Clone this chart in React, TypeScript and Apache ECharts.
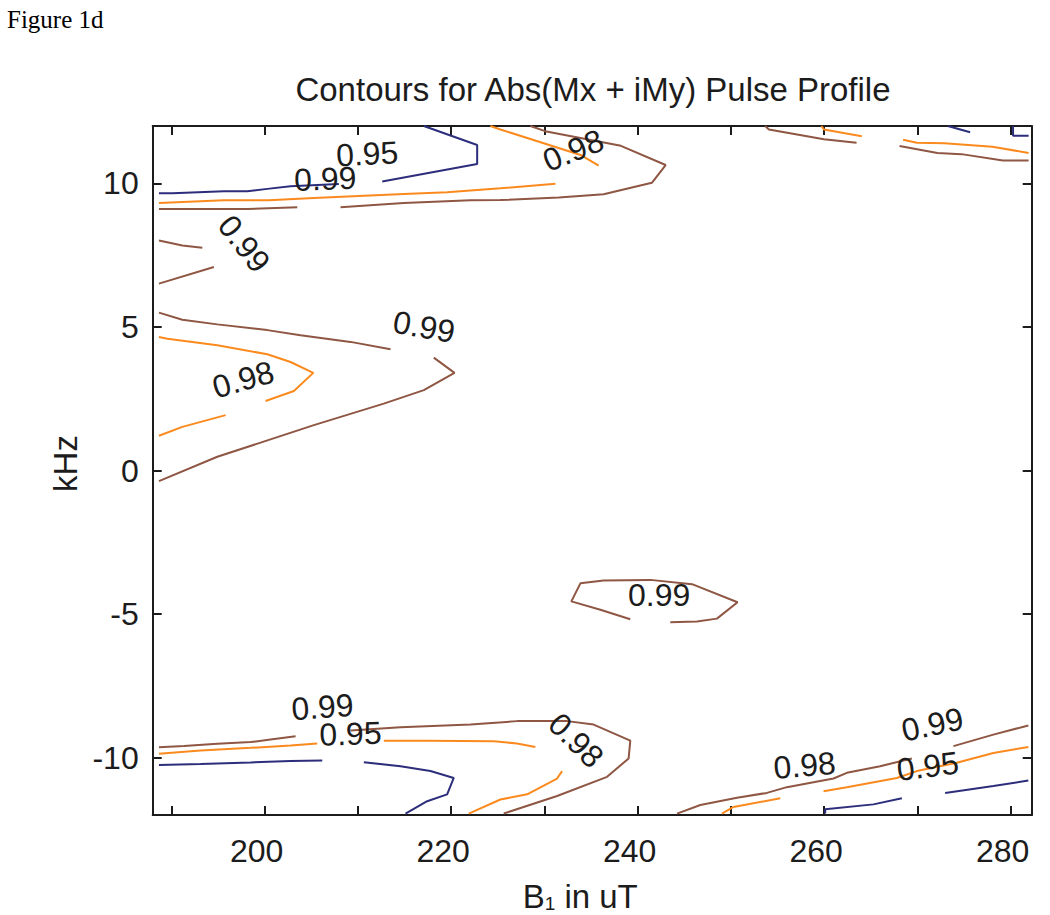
import { useEffect, useRef } from "react";
import * as echarts from "echarts";

// ---- Axis settings (data units) ----
const X_MIN = 188;
const X_MAX = 282.25;
const Y_MIN = -12;
const Y_MAX = 12;
const xTickValues = [190, 200, 210, 220, 230, 240, 250, 260, 270, 280];
const xLabelValues = [200, 220, 240, 260, 280];
const yTickValues = [-10, -5, 0, 5, 10];

const TITLE = "Contours for Abs(Mx + iMy) Pulse Profile";
const FIG_LABEL = "Figure 1d";

// ---- Contour level 0.95 (navy) ----
const c95TopLeftA: number[][] = [[188.67, 9.66], [190.11, 9.66], [195.64, 9.73], [198.14, 9.73], [200.29, 9.81], [202.78, 9.9], [207.96, 9.98]];
const c95TopLeftB: number[][] = [[212.61, 10.07], [222.79, 10.68], [222.79, 11.34], [217.07, 12]];
const c95TopRightA: number[][] = [[273.26, 12], [275.65, 11.78]];
const c95TopRightB: number[][] = [[280.25, 12], [280.25, 11.66], [281.92, 11.66]];
const c95BottomLeftA: number[][] = [[188.67, -10.26], [193.14, -10.22], [198.5, -10.17], [202.78, -10.12], [206.18, -10.1]];
const c95BottomLeftB: number[][] = [[210.64, -10.16], [214.57, -10.3], [217.78, -10.47], [220.28, -10.71], [219.57, -11.28], [217.43, -11.52], [215.11, -11.95]];
const c95BottomRightA: number[][] = [[260.11, -11.95], [260.11, -11.8], [265.28, -11.63], [268.33, -11.42]];
const c95BottomRightB: number[][] = [[272.97, -11.23], [278.14, -10.99], [281.89, -10.8]];

// ---- Contour level 0.98 (orange) ----
const c98TopLeftA: number[][] = [[188.67, 9.32], [195.64, 9.41], [200.46, 9.41], [205.28, 9.49], [214.92, 9.63], [219.57, 9.69], [225.28, 9.83], [231.18, 9.99]];
const c98TopLeftB: number[][] = [[235.82, 10.62], [233.96, 10.98], [225.28, 11.88], [224.21, 12]];
const c98TopMid: number[][] = [[259.7, 12], [259.97, 11.88], [264.03, 11.64]];
const c98TopRight: number[][] = [[268.46, 11.52], [269.93, 11.42], [272.88, 11.4], [278.04, 11.28], [281.92, 11.06]];
const c98MidLeftA: number[][] = [[188.67, 4.65], [189.57, 4.59], [194.93, 4.36], [200.29, 4.05], [202.78, 3.78], [205.22, 3.4], [203.14, 2.77], [200.1, 2.42]];
const c98MidLeftB: number[][] = [[195.82, 1.93], [191.18, 1.52], [188.67, 1.21]];
const c98BottomLeftA: number[][] = [[188.67, -9.87], [193.14, -9.75], [198.5, -9.66], [202.78, -9.58], [205.64, -9.51]];
const c98BottomLeftB: number[][] = [[212.78, -9.41], [217.43, -9.41], [224.57, -9.43], [227.07, -9.51], [229.03, -9.63]];
const c98BottomLeftC: number[][] = [[231.9, -10.47], [231.36, -10.73], [228.15, -11.28], [225.28, -11.46], [221.89, -11.95]];
const c98BottomRightA: number[][] = [[249.04, -11.95], [250.28, -11.72], [255.29, -11.42]];
const c98BottomRightB: number[][] = [[259.93, -11.17], [262.43, -11.03], [267.79, -10.71], [269.93, -10.47], [274.22, -10.18], [278.14, -9.84], [281.89, -9.63]];

// ---- Contour level 0.99 (brown) ----
const c99TopLeftA: number[][] = [[188.67, 9.11], [198.14, 9.11], [203.5, 9.17]];
const c99TopLeftB: number[][] = [[208.14, 9.17], [214.92, 9.32], [222.07, 9.41], [225.28, 9.42], [231.55, 9.51], [236.35, 9.62], [241.52, 10.02], [243.0, 10.64], [238.2, 11.31], [230.08, 11.82], [228.5, 12]];
const c99EdgeA: number[][] = [[188.67, 8.01], [191.18, 7.84], [193.32, 7.76]];
const c99EdgeB: number[][] = [[188.67, 6.51], [194.56, 7.09]];
const c99TopMid: number[][] = [[253.68, 12], [254.07, 11.88], [259.97, 11.54], [263.47, 11.42]];
const c99TopRight: number[][] = [[268.08, 11.3], [272.14, 11.06], [274.72, 11.02], [279.16, 10.8], [281.92, 10.8]];
const c99MidLeftA: number[][] = [[188.67, 5.5], [191.18, 5.25], [194.93, 5.09], [200.29, 4.89], [203.85, 4.71], [209.21, 4.48], [213.5, 4.22]];
const c99MidLeftB: number[][] = [[218.14, 3.93], [220.36, 3.4], [217.07, 2.8], [212.78, 2.33], [205.28, 1.58], [199.57, 0.97], [194.93, 0.48], [188.67, -0.37]];
const c99Island: number[][] = [[239.21, -5.18], [236.0, -4.85], [232.89, -4.56], [233.86, -3.93], [236.35, -3.83], [241.36, -3.81], [245.83, -3.96], [250.71, -4.59], [248.5, -5.16], [246.36, -5.26], [243.5, -5.29]];
const c99BottomLeftA: number[][] = [[188.67, -9.64], [191.35, -9.6], [194.93, -9.52], [198.5, -9.46], [200.64, -9.37], [203.32, -9.26]];
const c99BottomLeftB: number[][] = [[209.21, -9.06], [214.57, -8.94], [222.07, -8.85], [227.07, -8.73], [232.43, -8.73], [235.28, -8.85], [239.21, -9.41], [239.03, -10.03], [236.72, -10.67], [231.36, -11.34], [225.64, -11.95]];
const c99BottomRightA: number[][] = [[244.22, -11.95], [246.72, -11.65], [250.65, -11.4], [253.86, -11.23], [256.0, -11.03], [261.0, -10.73], [262.43, -10.53], [266.0, -10.3], [269.4, -10.03]];
const c99BottomRightB: number[][] = [[273.86, -9.6], [278.14, -9.2], [281.89, -8.88]];

const navySegments = [c95TopLeftA, c95TopLeftB, c95TopRightA, c95TopRightB, c95BottomLeftA, c95BottomLeftB, c95BottomRightA, c95BottomRightB];
const orangeSegments = [c98TopLeftA, c98TopLeftB, c98TopMid, c98TopRight, c98MidLeftA, c98MidLeftB, c98BottomLeftA, c98BottomLeftB, c98BottomLeftC, c98BottomRightA, c98BottomRightB];
const brownSegments = [c99TopLeftA, c99TopLeftB, c99EdgeA, c99EdgeB, c99TopMid, c99TopRight, c99MidLeftA, c99MidLeftB, c99Island, c99BottomLeftA, c99BottomLeftB, c99BottomRightA, c99BottomRightB];

// ---- Contour labels ----
const labelTexts = ["0.95", "0.99", "0.98", "0.99", "0.99", "0.98", "0.99", "0.99", "0.95", "0.98", "0.98", "0.99", "0.95"];
const labelX = [211.0, 206.5, 233.1, 197.8, 217.1, 197.7, 242.3, 206.2, 209.2, 233.4, 257.9, 271.6, 271.1];
const labelY = [11.03, 10.16, 11.15, 7.9, 5.0, 3.17, -4.32, -8.24, -9.17, -9.4, -10.27, -8.85, -10.3];
const labelRotation = [3, 2, 22, -52, -10, 16, 0, 4, 2, -45, 5, 12, 7];

const NAVY = "#2c2e7c";
const ORANGE = "#fb8a1e";
const BROWN = "#8e5643";
const INK = "#1c1c1c";
const FONT = "Liberation Sans";

export default function App() {
  const ref = useRef<HTMLDivElement>(null);

  useEffect(() => {
    if (!ref.current) return;
    const chart = echarts.init(ref.current, undefined, { renderer: "svg" });

    const lineSeries = (segs: number[][][], color: string) =>
      segs.map((seg) => ({
        type: "line",
        data: seg,
        symbol: "none",
        showSymbol: false,
        silent: true,
        lineStyle: { color, width: 2 },
        xAxisIndex: 0,
        yAxisIndex: 0,
        z: 3,
      }));

    const labelSeries = {
      type: "scatter",
      silent: true,
      symbolSize: 1,
      itemStyle: { color: "rgba(0,0,0,0)" },
      z: 5,
      data: labelTexts.map((t, i) => ({
        value: [labelX[i], labelY[i]],
        name: t,
        label: { rotate: labelRotation[i] },
      })),
      label: {
        show: true,
        position: "inside",
        formatter: (p: any) => p.name,
        fontSize: 32,
        color: INK,
        opacity: 1,
        textBorderWidth: 0,
        fontFamily: FONT,
      },
    };

    const tickStyle = { color: INK, width: 2 };

    chart.setOption({
      animation: false,
      backgroundColor: "#ffffff",
      title: [
        {
          text: TITLE,
          left: 588,
          top: 68,
          textAlign: "center",
          textStyle: { fontSize: 33, fontWeight: "normal", fontFamily: FONT, color: INK },
        },
        {
          text: FIG_LABEL,
          left: 2,
          top: 2,
          textStyle: { fontSize: 25, fontWeight: "normal", fontFamily: "Liberation Serif", color: "#000" },
        },
      ],
      grid: { left: 152.7, right: 18.3, top: 126, bottom: 100, outerBoundsMode: "none", containLabel: false },
      xAxis: [
        {
          type: "value",
          min: X_MIN,
          max: X_MAX,
          position: "bottom",
          splitLine: { show: false },
          axisLine: { show: true, onZero: false, lineStyle: tickStyle },
          axisTick: { show: true, inside: true, length: 9, lineStyle: tickStyle, customValues: xTickValues },
          axisLabel: {
            customValues: xLabelValues,
            fontSize: 32,
            color: INK,
            fontFamily: FONT,
            margin: 20,
            padding: [0, 16, 0, 0],
          },
          name: "{b|B}{s|1}{b| in uT}",
          nameLocation: "middle",
          nameGap: 64,
          nameTextStyle: {
            fontSize: 33,
            lineHeight: 34,
            color: INK,
            fontFamily: FONT,
            padding: [0, 24, 0, 0],
            rich: {
              b: { fontSize: 33, lineHeight: 34, color: INK, fontFamily: FONT },
              s: { fontSize: 19, lineHeight: 19, color: INK, fontFamily: FONT, verticalAlign: "bottom" },
            },
          },
        },
        {
          type: "value",
          min: X_MIN,
          max: X_MAX,
          position: "top",
          splitLine: { show: false },
          axisLine: { show: true, onZero: false, lineStyle: tickStyle },
          axisTick: { show: true, inside: true, length: 9, lineStyle: tickStyle, customValues: xTickValues },
          axisLabel: { show: false },
        },
      ],
      yAxis: [
        {
          type: "value",
          min: Y_MIN,
          max: Y_MAX,
          position: "left",
          splitLine: { show: false },
          axisLine: { show: true, onZero: false, lineStyle: tickStyle },
          axisTick: { show: true, inside: true, length: 9, lineStyle: tickStyle, customValues: yTickValues },
          axisLabel: {
            customValues: yTickValues,
            fontSize: 32,
            color: INK,
            fontFamily: FONT,
            margin: 14,
          },
          name: "kHz",
          nameLocation: "middle",
          nameGap: 68,
          nameTextStyle: { fontSize: 33, color: INK, fontFamily: FONT, padding: [0, 0, 0, 14] },
        },
        {
          type: "value",
          min: Y_MIN,
          max: Y_MAX,
          position: "right",
          splitLine: { show: false },
          axisLine: { show: true, onZero: false, lineStyle: tickStyle },
          axisTick: { show: true, inside: true, length: 9, lineStyle: tickStyle, customValues: yTickValues },
          axisLabel: { show: false },
        },
      ],
      series: [
        ...lineSeries(navySegments, NAVY),
        ...lineSeries(orangeSegments, ORANGE),
        ...lineSeries(brownSegments, BROWN),
        labelSeries,
      ],
    });

    return () => chart.dispose();
  }, []);

  return (
    <div
      ref={ref}
      style={{ position: "absolute", left: 0, top: 0, width: 1050, height: 915, background: "#fff" }}
    />
  );
}
